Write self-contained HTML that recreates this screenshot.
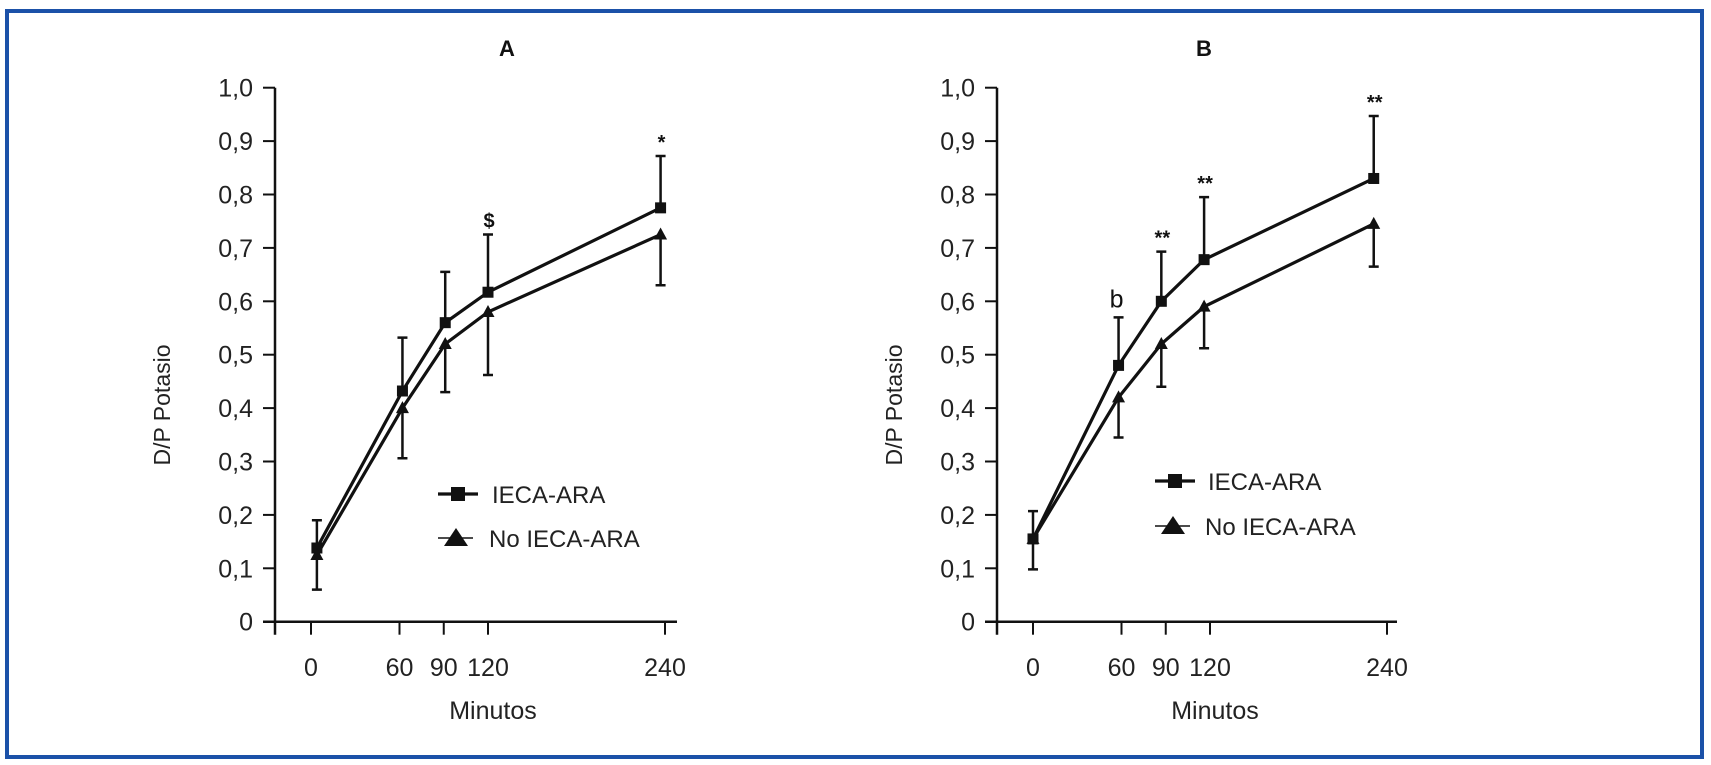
<!DOCTYPE html>
<html><head><meta charset="utf-8"><style>
html,body{margin:0;padding:0;background:#fff;}
svg{display:block;font-family:"Liberation Sans",sans-serif;}
</style></head><body>
<svg id="fig" width="1711" height="765" viewBox="0 0 1711 765" xmlns="http://www.w3.org/2000/svg">
<rect x="7" y="11" width="1695" height="746" fill="none" stroke="#1b51a8" stroke-width="4"/>
<g id="pa"></g>
<g id="pb"></g>
</svg>
<script>
const yTicks=[0,0.1,0.2,0.3,0.4,0.5,0.6,0.7,0.8,0.9,1.0];
const yTickLabels=["0","0,1","0,2","0,3","0,4","0,5","0,6","0,7","0,8","0,9","1,0"];
const xTicks=[0,60,90,120,240];
const xTickLabels=["0","60","90","120","240"];
// Panel A
const aTimes=[4,62,91,120,237];
const aIeca=[0.138,0.432,0.56,0.617,0.775];
const aIecaUpper=[0.19,0.532,0.655,0.725,0.872];
const aNo=[0.125,0.40,0.52,0.58,0.725];
const aNoLower=[0.06,0.306,0.43,0.462,0.63];
const aMarks=[{i:3,s:"$"},{i:4,s:"*"}];
// Panel B
const bTimes=[0,58,87,116,231];
const bIeca=[0.155,0.48,0.60,0.678,0.83];
const bIecaUpper=[0.207,0.57,0.693,0.795,0.947];
const bNo=[0.155,0.42,0.52,0.59,0.745];
const bNoLower=[0.098,0.345,0.44,0.512,0.665];
const bMarks=[{i:1,s:"b"},{i:2,s:"**"},{i:3,s:"**"},{i:4,s:"**"}];

const NS="http://www.w3.org/2000/svg";
function mk(p,tag,at,txt){const e=document.createElementNS(NS,tag);for(const k in at)e.setAttribute(k,at[k]);if(txt!==undefined)e.textContent=txt;p.appendChild(e);return e;}

function panel(g,cfg){
  const X=t=>cfg.x0+t*1.475;
  const Y=v=>621.7-v*534;
  const ax=cfg.axisX;
  let e;
  e=mk(g,"text",{x:cfg.titleX,y:56,"text-anchor":"middle","font-size":22,"font-weight":"bold",fill:"#111"},cfg.title);
  
  
  e=mk(g,"line",{x1:ax,y1:Y(1),x2:ax,y2:Y(0)+13,stroke:"#111","stroke-width":2.5});
  
  
  e=mk(g,"line",{x1:ax-12,y1:Y(0),x2:cfg.xEnd,y2:Y(0),stroke:"#111","stroke-width":2.5});
  
  
  yTicks.forEach((v,i)=>{
    let t=mk(g,"line",{x1:ax-12,y1:Y(v),x2:ax,y2:Y(v),stroke:"#111","stroke-width":2});
    
    
    let l=mk(g,"text",{x:ax-22,y:Y(v)+9,"text-anchor":"end","font-size":25,fill:"#222"},yTickLabels[i]);
    
    
  });
  xTicks.forEach((v,i)=>{
    let t=mk(g,"line",{x1:X(v),y1:Y(0),x2:X(v),y2:Y(0)+13,stroke:"#111","stroke-width":2});
    
    
    let l=mk(g,"text",{x:X(v),y:676,"text-anchor":"middle","font-size":25,fill:"#222"},xTickLabels[i]);
    
    
  });
  e=mk(g,"text",{x:cfg.xTitleX,y:719,"text-anchor":"middle","font-size":25,fill:"#222"},"Minutos");
  
  
  e=mk(g,"text",{x:cfg.yTitleX,y:405,"text-anchor":"middle","font-size":23,fill:"#222",transform:`rotate(-90 ${cfg.yTitleX} 405)`},"D/P Potasio");
  
  
  // error bars
  cfg.times.forEach((t,i)=>{
    let b=mk(g,"path",{d:`M${X(t)},${Y(cfg.ieca[i])}V${Y(cfg.up[i])}M${X(t)-5},${Y(cfg.up[i])}H${X(t)+5}`,stroke:"#111","stroke-width":2.5,fill:"none"});
    
    
    let c=mk(g,"path",{d:`M${X(t)},${Y(cfg.no[i])}V${Y(cfg.lo[i])}M${X(t)-5},${Y(cfg.lo[i])}H${X(t)+5}`,stroke:"#111","stroke-width":2.5,fill:"none"});
    
    
  });
  e=mk(g,"polyline",{points:cfg.times.map((t,i)=>X(t)+","+Y(cfg.ieca[i])).join(" "),fill:"none",stroke:"#111","stroke-width":3.2});
  
  
  e=mk(g,"polyline",{points:cfg.times.map((t,i)=>X(t)+","+Y(cfg.no[i])).join(" "),fill:"none",stroke:"#111","stroke-width":3.2});
  
  
  cfg.times.forEach((t,i)=>{
    let s=mk(g,"rect",{x:X(t)-5.5,y:Y(cfg.ieca[i])-5.5,width:11,height:11,fill:"#111"});
    
    
    let x=X(t),y=Y(cfg.no[i]);
    let tr=mk(g,"polygon",{points:`${x},${y-7} ${x-6.5},${y+5} ${x+6.5},${y+5}`,fill:"#111"});
    
    
  });
  cfg.marks.forEach(m=>{
    const t=cfg.times[m.i];
    const big=m.s==="b";
    let a=mk(g,"text",{x:X(t)+(big?-2:1),y:Y(cfg.up[m.i])-(big?10:7),"text-anchor":"middle","font-size":big?25:20,"font-weight":big?"normal":"bold",fill:"#111"},m.s);
    
    
  });
  // legend
  const L=cfg.leg;
  e=mk(g,"line",{x1:L.x,y1:L.y1,x2:L.x+40,y2:L.y1,stroke:"#111","stroke-width":3.2});
  
  
  e=mk(g,"rect",{x:L.x+13,y:L.y1-7,width:14,height:14,fill:"#111"});
  
  
  e=mk(g,"text",{x:L.tx,y:L.y1+9,"font-size":24,fill:"#222"},"IECA-ARA");
  
  
  e=mk(g,"line",{x1:L.x,y1:L.y2,x2:L.x+35,y2:L.y2,stroke:"#111","stroke-width":1.5});
  
  
  e=mk(g,"polygon",{points:`${L.x+18},${L.y2-10} ${L.x+6},${L.y2+8} ${L.x+30},${L.y2+8}`,fill:"#111"});
  
  
  e=mk(g,"text",{x:L.tx-3,y:L.y2+9,"font-size":24,fill:"#222"},"No IECA-ARA");
  
  
}
panel(document.getElementById("pa"),{title:"A",titleX:507,x0:311,axisX:275,xEnd:677,xTitleX:493,yTitleX:170,
  times:aTimes,ieca:aIeca,up:aIecaUpper,no:aNo,lo:aNoLower,marks:aMarks,leg:{x:438,y1:494,y2:538,tx:492}});
panel(document.getElementById("pb"),{title:"B",titleX:1204,x0:1033,axisX:997,xEnd:1397,xTitleX:1215,yTitleX:902,
  times:bTimes,ieca:bIeca,up:bIecaUpper,no:bNo,lo:bNoLower,marks:bMarks,leg:{x:1155,y1:481,y2:526,tx:1208}});
</script>
</body></html>
